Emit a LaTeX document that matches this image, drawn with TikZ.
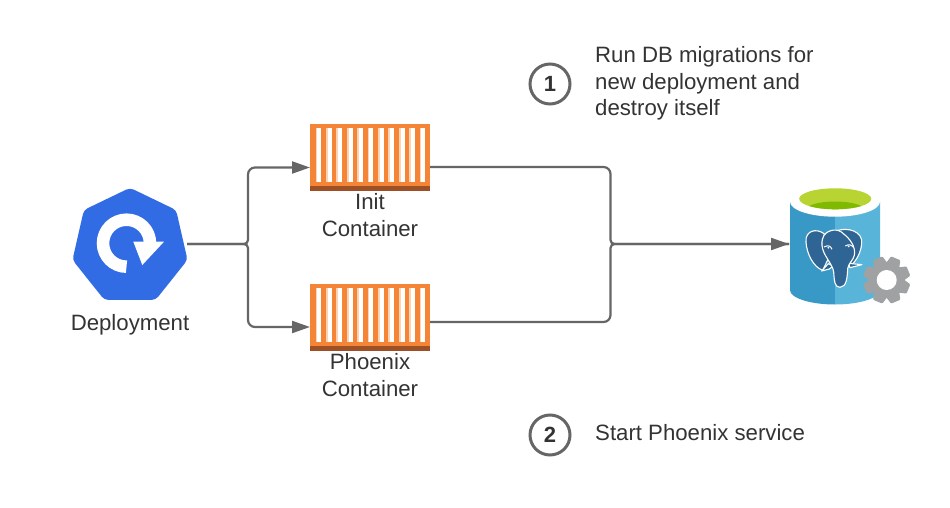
\documentclass[tikz,border=0pt]{standalone}
\usepackage{fontspec}
\setmainfont{Liberation Sans}
\usetikzlibrary{arrows.meta,shapes.geometric}

\definecolor{textgray}{HTML}{333333}
\definecolor{linegray}{HTML}{666666}
\definecolor{k8sblue}{HTML}{326CE5}
\definecolor{crateorange}{HTML}{F58536}
\definecolor{cratebrown}{HTML}{9D5025}
\definecolor{cratepeach}{HTML}{FCD3B5}
\definecolor{dbleft}{HTML}{3999C6}
\definecolor{dbright}{HTML}{59B4D9}
\definecolor{dbgreen}{HTML}{B8D432}
\definecolor{dbdeep}{HTML}{7FBA00}
\definecolor{elephant}{HTML}{2F6594}
\definecolor{geargray}{HTML}{A0A1A2}

\begin{document}
\begin{tikzpicture}
        [x=1pt, y=-1pt,
        caption/.style={font=\fontsize{22.2}{26.5}\selectfont, text=textgray, align=center, inner sep=0pt},
        note/.style={font=\fontsize{22.2}{26.5}\selectfont, text=textgray, align=left, inner sep=0pt, anchor=north west},
        stepmark/.style={circle, draw=linegray, line width=3pt, minimum size=40pt, inner sep=0pt, text=textgray, font=\fontsize{22}{26}\selectfont\bfseries},
        crate/.style={fill=crateorange, minimum width=120pt, minimum height=62pt, inner sep=0pt, outer sep=0pt},
        link/.style={draw=linegray, line width=2.2pt},
        linkarrow/.style={link, -{Triangle[length=18pt,width=12pt]}},
        elephantpart/.style={fill=elephant, draw=white, line width=1.1pt, line join=round}]

        \useasboundingbox (0,0) rectangle (950,508);

        % Deployment icon
        \node[regular polygon, regular polygon sides=7, fill=k8sblue, minimum size=118pt, inner sep=0pt, outer sep=0pt, rounded corners=4pt] (deploy) at (130,246.8) {};
        \draw[white, line width=12.5pt] (126.5,266.7) arc (90:360:23.5);
        \fill[white] (133.3,241.7) -- (164,241.7) -- (142.3,265) -- cycle;
        \node[caption] (deploylabel) at (130,325) {Deployment};

        % Containers
        \node[crate] (init) at (370,155) {};
        \fill[cratebrown] (310,186) rectangle (430,191);
        \node[crate] (phoenix) at (370,315) {};
        \fill[cratebrown] (310,346) rectangle (430,351);
        \foreach \y in {128.3,288.3}
            \foreach \k in {0,...,10} {
                \fill[white] ({315.5+10.4*\k},\y) rectangle ++(5.8,53.4);
                \fill[cratepeach] ({315.5+10.4*\k},\y) rectangle ++(1.8,53.4);
            }
        \node[caption] (initlabel) at (370,215) {Init\\Container};
        \node[caption] (phoenixlabel) at (370,375) {Phoenix\\Container};

        % Postgres icon
        \fill[dbleft] (790,201.7) -- (790,290) arc (180:90:45 and 14.5) -- (835,201.7) -- cycle;
        \fill[dbright] (880,201.7) -- (880,290) arc (0:90:45 and 14.5) -- (835,201.7) -- cycle;
        \fill[white] (835,201.7) ellipse (45 and 15);
        \begin{scope}
            \clip (835.2,198.8) ellipse (36 and 10.5);
            \fill[dbgreen] (790,180) rectangle (880,215);
            \fill[dbdeep] (835.2,209) ellipse (28 and 7.5);
        \end{scope}

        % elephant, drawn in crop units
        \begin{scope}[shift={(800,222)}, scale=1/3]
            \path[elephantpart] (72,35) .. controls (50,18) and (15,25) .. (18,60) .. controls (20,95) and (40,135) .. (68,145) -- (85,110) -- cycle;
            \path[elephantpart] (105,28) .. controls (145,12) and (190,30) .. (185,65) .. controls (183,90) and (170,115) .. (155,128) -- (130,80) -- cycle;
            \path[elephantpart] (85,125) -- (65,147) -- (88,141) -- (100,132) -- cycle;
            \path[elephantpart] (145,124) -- (186,128) -- (150,137) -- cycle;
            \path[elephantpart] (72,40) .. controls (85,22) and (115,18) .. (130,35) .. controls (150,50) and (168,75) .. (163,100) .. controls (160,115) and (146,122) .. (143,140) .. controls (142,165) and (140,195) .. (120,196) .. controls (103,196) and (103,175) .. (101,150) .. controls (98,125) and (68,100) .. (66,70) .. controls (65,55) and (68,47) .. (72,40) -- cycle;
            \draw[white, line width=1pt] (72,75) .. controls (85,68) and (92,72) .. (96,82);
            \draw[white, line width=1pt] (136,72) .. controls (146,66) and (155,68) .. (160,76);
            \fill[white] (85,77) circle (3);
            \fill[white] (146,73) circle (3);
        \end{scope}

        % gear
        \begin{scope}[shift={(886.7,280)}]
            \foreach \a in {22.5,67.5,...,337.5}
                \fill[geargray, rotate=\a, rounded corners=1pt] (14,-7.5) -- (23.5,-5) -- (23.5,5) -- (14,7.5) -- cycle;
            \fill[geargray] (0,0) circle (18);
            \fill[white] (0,0) circle (10);
        \end{scope}

        \coordinate (deployout) at (187,244);
        \coordinate (split) at (248,244);
        \coordinate (splitup) at (248,167.5);
        \coordinate (splitdown) at (248,327);
        \coordinate (initin) at (310,167.5);
        \coordinate (phoenixin) at (310,327);
        \coordinate (initout) at (430,167);
        \coordinate (phoenixout) at (430,322);
        \coordinate (mergeup) at (610.5,167);
        \coordinate (mergedown) at (610.5,322);
        \coordinate (merge) at (610.5,244);
        \node[inner sep=0pt, outer sep=0pt, minimum size=0pt] (db) at (789,244) {};

        % connectors
        \draw[linkarrow] (deployout) [rounded corners=4pt] -- (split) [rounded corners=7pt] -- (splitup) -- (initin);
        \draw[linkarrow] (deployout) [rounded corners=4pt] -- (split) [rounded corners=7pt] -- (splitdown) -- (phoenixin);
        \draw[link] (initout) [rounded corners=7pt] -- (mergeup) [rounded corners=4pt] -- (merge) -- (db.center);
        \draw[link] (phoenixout) [rounded corners=7pt] -- (mergedown) [rounded corners=4pt] -- (merge) -- (db.center);
        \draw[linkarrow] (merge) -- (db.center);

        % Steps
        \node[stepmark] (stepone) at (550,84) {1};
        \node[note] (stepnote) at (595,46.5) {Run DB migrations for\\new deployment and\\destroy itself};
        \node[stepmark] (steptwo) at (550,435) {2};
        \node[note] (stepnotetwo) at (595,424.5) {Start Phoenix service};

    \end{tikzpicture}
\end{document}
